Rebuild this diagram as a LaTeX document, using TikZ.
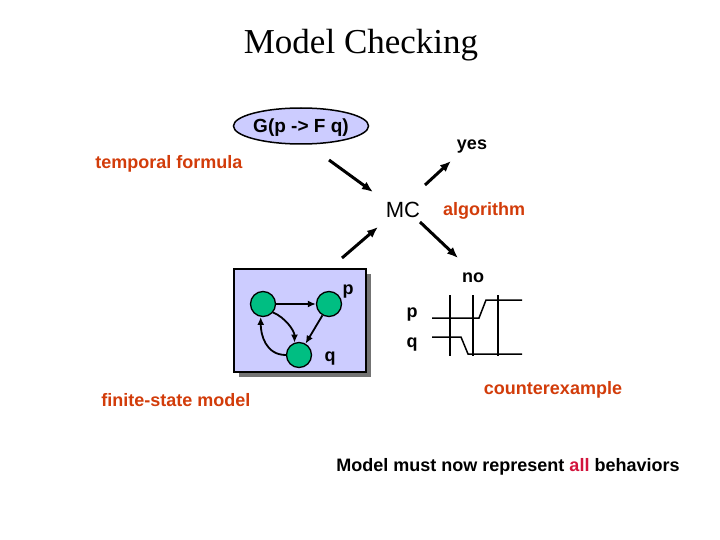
\documentclass[tikz,border=0pt]{standalone}
\usepackage{fontspec}
\setmainfont{Liberation Serif}
\setsansfont{Liberation Sans}
\usetikzlibrary{arrows.meta,shapes.geometric}
\definecolor{lav}{RGB}{204,204,255}
\definecolor{statefill}{RGB}{0,190,130}
\definecolor{orangered}{RGB}{210,60,10}
\definecolor{crimson}{RGB}{210,20,60}
\tikzset{
  lbl/.style={font=\sffamily\bfseries\fontsize{18}{20}\selectfont, inner sep=0pt},
  olbl/.style={lbl, text=orangered},
  bigarrow/.style={line width=3pt, -{Latex[length=11pt,width=9pt]}},
  state/.style={circle, draw, line width=1.3pt, fill=statefill, minimum size=25pt, inner sep=0pt},
  tr/.style={line width=1.8pt, -{Latex[length=8pt,width=7pt]}},
  wave/.style={line width=1.5pt},
}
\begin{document}
\begin{tikzpicture}[x=1pt,y=-1pt]
\useasboundingbox (0,0) rectangle (720,540);
% title
\node (title) at (361,45) {\fontsize{35}{38}\selectfont Model Checking};
% formula
\node[ellipse, draw, line width=1.5pt, fill=lav, minimum width=130pt, minimum height=36pt, inner sep=0pt,
      text height=14pt, text depth=0pt,
      font=\sffamily\bfseries\fontsize{19}{21}\selectfont] (f) at (301,126) {G(p -> F q)};
\node[olbl] (tf) at (169,164) {temporal formula};
\node[font=\sffamily\fontsize{22}{24}\selectfont, inner sep=0pt] (mc) at (403,210) {MC};
\node[olbl] (alg) at (484,211) {algorithm};
\node[lbl] (yes) at (472,147) {yes};
\node[lbl] (no) at (473,278) {no};
\node[olbl] (ce) at (553,390) {counterexample};
\node[olbl] (fsm) at (176,400) {finite-state model};
\node[lbl] (must) at (508,467) {Model must now represent \textcolor{crimson}{all} behaviors};
% MC arrows
\coordinate (a1s) at (329,160);
\coordinate (a1e) at (373,192);
\coordinate (a2s) at (342,258);
\coordinate (a2e) at (378,227);
\coordinate (a3s) at (425,185);
\coordinate (a3e) at (451,161);
\coordinate (a4s) at (420,222);
\coordinate (a4e) at (458,258);
\draw[bigarrow] (a1s) -- (a1e);
\draw[bigarrow] (a2s) -- (a2e);
\draw[bigarrow] (a3s) -- (a3e);
\draw[bigarrow] (a4s) -- (a4e);
% model box
\fill[gray!90!black] (239,274) rectangle (371,377);
\draw[line width=1.5pt, fill=lav] (234,269) rectangle (366,372);
\node[state] (s1) at (263,304) {};
\node[state] (s2) at (329,304) {};
\node[state] (s3) at (299,355) {};
\node[lbl] (pl) at (348,292) {p};
\node[lbl] (ql) at (330,359) {q};
\draw[tr] (s1) -- (s2);
\draw[tr] (s2.-120) -- (s3.60);
\draw[tr] (s1.-40) .. controls +(12,5) and +(0,-12) .. (s3.110);
\draw[tr] (s3.180) .. controls +(-20,0) and +(0,18) .. (s1.-100);
% counterexample waveform
\node[lbl] (wp) at (412,315) {p};
\node[lbl] (wq) at (412,345) {q};
\coordinate (v1t) at (450,295); \coordinate (v1b) at (450,356);
\coordinate (v2t) at (473,295); \coordinate (v2b) at (473,356);
\coordinate (v3t) at (498,295); \coordinate (v3b) at (498,356);
\draw[wave] (v1t) -- (v1b);
\draw[wave] (v2t) -- (v2b);
\draw[wave] (v3t) -- (v3b);
\coordinate (p0) at (432,318); \coordinate (p1) at (479,318);
\coordinate (p2) at (486,300); \coordinate (p3) at (522,300);
\draw[wave] (p0) -- (p1) -- (p2) -- (p3);
\coordinate (q0) at (432,337); \coordinate (q1) at (461,337);
\coordinate (q2) at (468,354); \coordinate (q3) at (522,354);
\draw[wave] (q0) -- (q1) -- (q2) -- (q3);
\end{tikzpicture}
\end{document}
